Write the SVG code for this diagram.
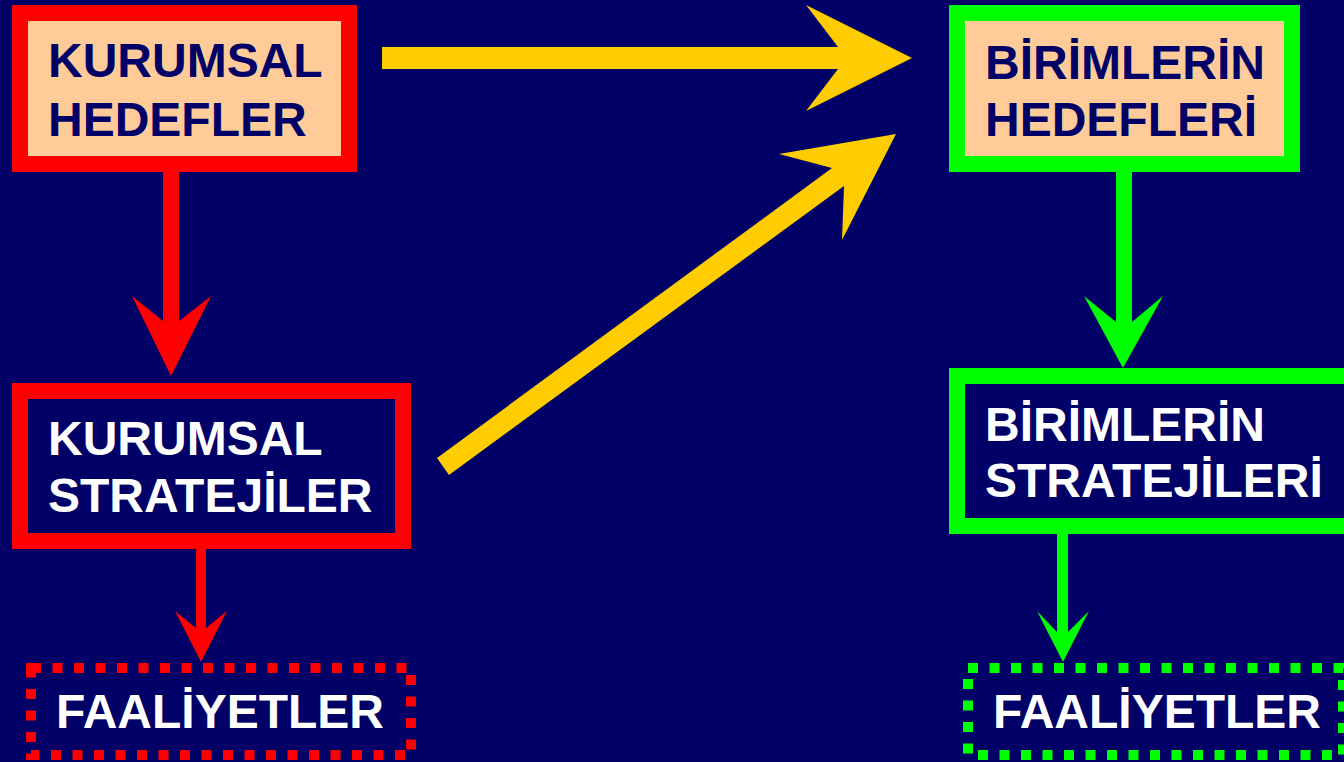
<svg xmlns="http://www.w3.org/2000/svg" width="1344" height="762" viewBox="0 0 1344 762">
  <style>
    .lbl { font-family: "Liberation Sans", Arial, sans-serif; font-weight: bold; font-size: 48px; }
    .dark { fill: #000066; }
    .light { fill: #FFFFFF; }
    .red { stroke: #FF0000; }
    .green { stroke: #00FF00; }
    .solid { stroke-width: 16; }
    .dotted { fill: none; stroke-width: 10; stroke-dasharray: 10 11.5; }
  </style>
  <rect x="0" y="0" width="1344" height="762" fill="#000066"/>

  <g id="connectors">
    <polygon fill="#FFCC00" points="382,47 838,47 806,5 912,58 806,111 838,69 382,69"/>
    <polygon fill="#FFCC00" points="437,458 832,168 779,154 896,134 842,240 844,186 449,475"/>
    <polygon fill="#FF0000" points="163,170 179,170 179,321 211,296 171,376 132,296 163,321"/>
    <polygon fill="#FF0000" points="196,547 206,547 206,628 227,611 201,662 175,611 196,628"/>
    <polygon fill="#00FF00" points="1116,170 1132,170 1132,322 1163,296 1123,368 1084,296 1116,322"/>
    <polygon fill="#00FF00" points="1057,532 1068,532 1068,632 1089,611 1063,662 1037,611 1057,632"/>
  </g>

  <g id="kurumsal-hedefler">
    <rect x="20" y="13" width="329" height="151" fill="#FFCC99" class="red solid"/>
    <text class="lbl dark" x="48" y="77">KURUMSAL</text>
    <text class="lbl dark" x="48" y="136">HEDEFLER</text>
  </g>

  <g id="kurumsal-stratejiler">
    <rect x="20" y="391" width="383" height="150" fill="#000066" class="red solid"/>
    <text class="lbl light" x="48" y="455">KURUMSAL</text>
    <text class="lbl light" x="48" y="512">STRATEJİLER</text>
  </g>

  <g id="kurumsal-faaliyetler">
    <rect x="31" y="668" width="380" height="87" class="red dotted"/>
    <text class="lbl light" x="56" y="728">FAALİYETLER</text>
  </g>

  <g id="birimlerin-hedefleri">
    <rect x="957" y="13" width="335" height="151" fill="#FFCC99" class="green solid"/>
    <text class="lbl dark" x="985" y="79">BİRİMLERİN</text>
    <text class="lbl dark" x="985" y="136">HEDEFLERİ</text>
  </g>

  <g id="birimlerin-stratejileri">
    <rect x="957" y="376" width="420" height="150" fill="#000066" class="green solid"/>
    <text class="lbl light" x="985" y="441">BİRİMLERİN</text>
    <text class="lbl light" x="985" y="497">STRATEJİLERİ</text>
  </g>

  <g id="birimlerin-faaliyetler">
    <rect x="968" y="668" width="375" height="87" class="green dotted"/>
    <text class="lbl light" x="993" y="728">FAALİYETLER</text>
  </g>
</svg>
